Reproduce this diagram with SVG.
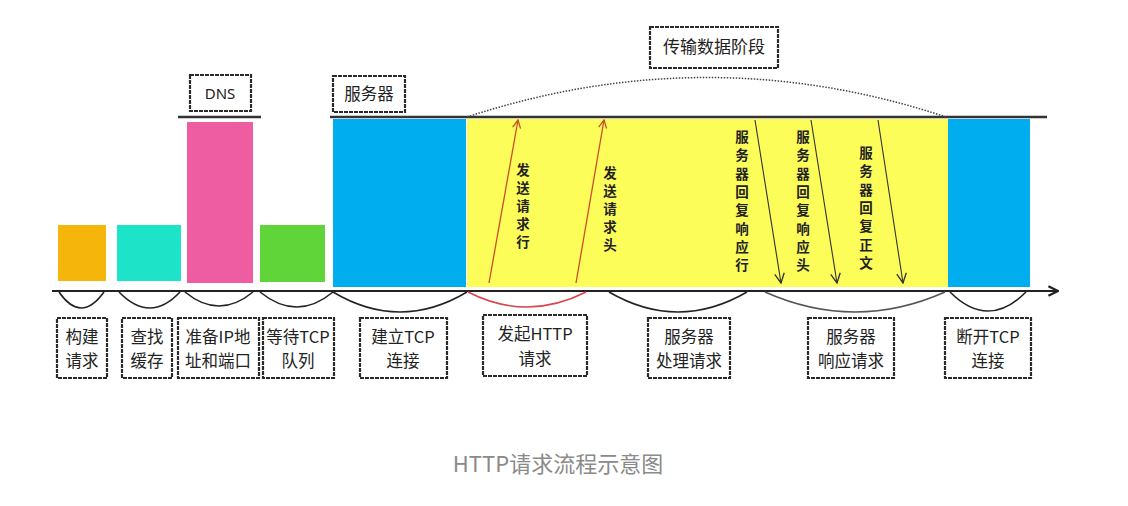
<svg xmlns="http://www.w3.org/2000/svg" width="1128" height="506" viewBox="0 0 1128 506">
<style>
.lbl{font-family:"Noto Sans CJK SC","Noto Sans",sans-serif;font-size:16.5px;fill:#222;text-anchor:middle}
.box{fill:#fff;stroke:#2a2a2a;stroke-width:2.2;stroke-dasharray:4 1}
.vt{font-family:"Noto Sans CJK SC",sans-serif;font-size:13.5px;font-weight:bold;fill:#222;text-anchor:middle}
.arc{fill:none;stroke:#222;stroke-width:1.6}
.ln{stroke:#333;stroke-width:2.5}
.cap{font-family:"Noto Sans CJK SC","Noto Sans",sans-serif;font-size:22px;fill:#8a8a8a;text-anchor:middle}
</style>
<defs>
<marker id="ar" viewBox="0 0 10 10" refX="9" refY="5" markerWidth="10" markerHeight="10" markerUnits="userSpaceOnUse" orient="auto"><path d="M1 1 L9 5 L1 9" fill="none" stroke="#c9502a" stroke-width="1.3"/></marker>
<marker id="ab" viewBox="0 0 10 10" refX="9" refY="5" markerWidth="12" markerHeight="12" markerUnits="userSpaceOnUse" orient="auto"><path d="M1 1 L9 5 L1 9" fill="none" stroke="#333" stroke-width="1.1"/></marker>
<marker id="ax" viewBox="0 0 10 10" refX="9" refY="5" markerWidth="12" markerHeight="12" markerUnits="userSpaceOnUse" orient="auto"><path d="M1 1 L9 5 L1 9" fill="none" stroke="#222" stroke-width="1.8"/></marker>
</defs>
<rect width="1128" height="506" fill="#fff"/>
<g id="bars">
<rect x="58" y="225" width="48" height="56" fill="#f5b50a"/>
<rect x="117" y="225" width="64" height="56" fill="#1de4c8"/>
<rect x="187" y="122" width="66" height="161" fill="#ee5ca2"/>
<rect x="260" y="225" width="65" height="57" fill="#5fd53a"/>
<rect x="333" y="119" width="133" height="168" fill="#00aeef"/>
<rect x="467" y="119" width="481" height="168" fill="#fdfd5a"/>
<rect x="948" y="119" width="82" height="168" fill="#00aeef"/>
</g>
<g id="toplines">
<line class="ln" x1="178" y1="117" x2="261" y2="117"/>
<line class="ln" x1="330" y1="117" x2="1047" y2="117"/>
<path d="M467 117 Q708 38 946 117" fill="none" stroke="#444" stroke-width="1.5" stroke-dasharray="1.5 1.5"/>
</g>
<g id="dns"><rect class="box" x="190" y="75" width="61" height="36"/><text class="lbl" x="220" y="99" style="font-family:'Noto Sans',sans-serif;font-size:15px">DNS</text></g>
<g id="server"><rect class="box" x="333" y="76" width="72" height="36"/><text class="lbl" x="369" y="100">服务器</text></g>
<g id="transfer"><rect class="box" x="650" y="27" width="128" height="41"/><text class="lbl" x="714" y="53" style="font-size:17px">传输数据阶段</text></g>
<g id="connectors">
<line x1="52" y1="291" x2="1058" y2="291" stroke="#222" stroke-width="2" marker-end="url(#ax)"/>
<path class="arc" d="M59 292 Q81 324 104 292"/>
<path class="arc" d="M119 292 Q150 324 180 292"/>
<path class="arc" d="M185 292 Q219 320 253 292"/>
<path class="arc" d="M260 292 Q297 322 333 292"/>
<path class="arc" d="M333 292 Q400 332 467 292"/>
<path d="M468 292 Q527 322 586 292" fill="none" stroke="#d9434a" stroke-width="1.6"/>
<path class="arc" d="M609 292 Q678 332 747 292"/>
<path d="M765 292 Q855 332 945 292" fill="none" stroke="#555" stroke-width="1.6"/>
<path class="arc" d="M950 292 Q988 330 1026 292"/>
<line x1="489" y1="283" x2="518" y2="120" stroke="#c9502a" stroke-width="1.3" marker-end="url(#ar)"/>
<line x1="576" y1="283" x2="604" y2="120" stroke="#c9502a" stroke-width="1.3" marker-end="url(#ar)"/>
<line x1="755" y1="120" x2="781" y2="283" stroke="#333" stroke-width="1.1" marker-end="url(#ab)"/>
<line x1="811" y1="120" x2="837" y2="283" stroke="#333" stroke-width="1.1" marker-end="url(#ab)"/>
<line x1="878" y1="120" x2="903" y2="283" stroke="#333" stroke-width="1.1" marker-end="url(#ab)"/>
</g>
<g id="vlabels">
<text class="vt"><tspan x="523" y="175">发</tspan><tspan x="523" y="193">送</tspan><tspan x="523" y="211">请</tspan><tspan x="523" y="229">求</tspan><tspan x="523" y="247">行</tspan></text>
<text class="vt"><tspan x="610" y="178">发</tspan><tspan x="610" y="196">送</tspan><tspan x="610" y="214">请</tspan><tspan x="610" y="232">求</tspan><tspan x="610" y="250">头</tspan></text>
<text class="vt"><tspan x="742" y="142">服</tspan><tspan x="742" y="160">务</tspan><tspan x="742" y="179">器</tspan><tspan x="742" y="197">回</tspan><tspan x="742" y="215">复</tspan><tspan x="742" y="234">响</tspan><tspan x="742" y="252">应</tspan><tspan x="742" y="270">行</tspan></text>
<text class="vt"><tspan x="803" y="142">服</tspan><tspan x="803" y="160">务</tspan><tspan x="803" y="179">器</tspan><tspan x="803" y="197">回</tspan><tspan x="803" y="215">复</tspan><tspan x="803" y="234">响</tspan><tspan x="803" y="252">应</tspan><tspan x="803" y="270">头</tspan></text>
<text class="vt"><tspan x="866" y="158">服</tspan><tspan x="866" y="176">务</tspan><tspan x="866" y="195">器</tspan><tspan x="866" y="213">回</tspan><tspan x="866" y="231">复</tspan><tspan x="866" y="250">正</tspan><tspan x="866" y="268">文</tspan></text>
</g>
<g id="n1"><rect class="box" x="57" y="318" width="50" height="60"/><text class="lbl"><tspan x="82" y="343">构建</tspan><tspan x="82" y="367">请求</tspan></text></g>
<g id="n2"><rect class="box" x="122" y="318" width="50" height="60"/><text class="lbl"><tspan x="147" y="343">查找</tspan><tspan x="147" y="367">缓存</tspan></text></g>
<g id="n3"><rect class="box" x="178" y="318" width="81" height="60"/><text class="lbl"><tspan x="218" y="343">准备IP地</tspan><tspan x="218" y="367">址和端口</tspan></text></g>
<g id="n4"><rect class="box" x="263" y="318" width="71" height="60"/><text class="lbl"><tspan x="298" y="343">等待TCP</tspan><tspan x="298" y="367">队列</tspan></text></g>
<g id="n5"><rect class="box" x="360" y="318" width="87" height="60"/><text class="lbl"><tspan x="403" y="343">建立TCP</tspan><tspan x="403" y="367">连接</tspan></text></g>
<g id="n6"><rect class="box" x="483" y="315" width="104" height="61"/><text class="lbl"><tspan x="535" y="340">发起HTTP</tspan><tspan x="535" y="365">请求</tspan></text></g>
<g id="n7"><rect class="box" x="648" y="318" width="82" height="60"/><text class="lbl"><tspan x="689" y="343">服务器</tspan><tspan x="689" y="367">处理请求</tspan></text></g>
<g id="n8"><rect class="box" x="808" y="318" width="86" height="60"/><text class="lbl"><tspan x="851" y="343">服务器</tspan><tspan x="851" y="367">响应请求</tspan></text></g>
<g id="n9"><rect class="box" x="945" y="318" width="86" height="60"/><text class="lbl"><tspan x="988" y="343">断开TCP</tspan><tspan x="988" y="367">连接</tspan></text></g>
<text class="cap" x="558" y="472">HTTP请求流程示意图</text>
</svg>
